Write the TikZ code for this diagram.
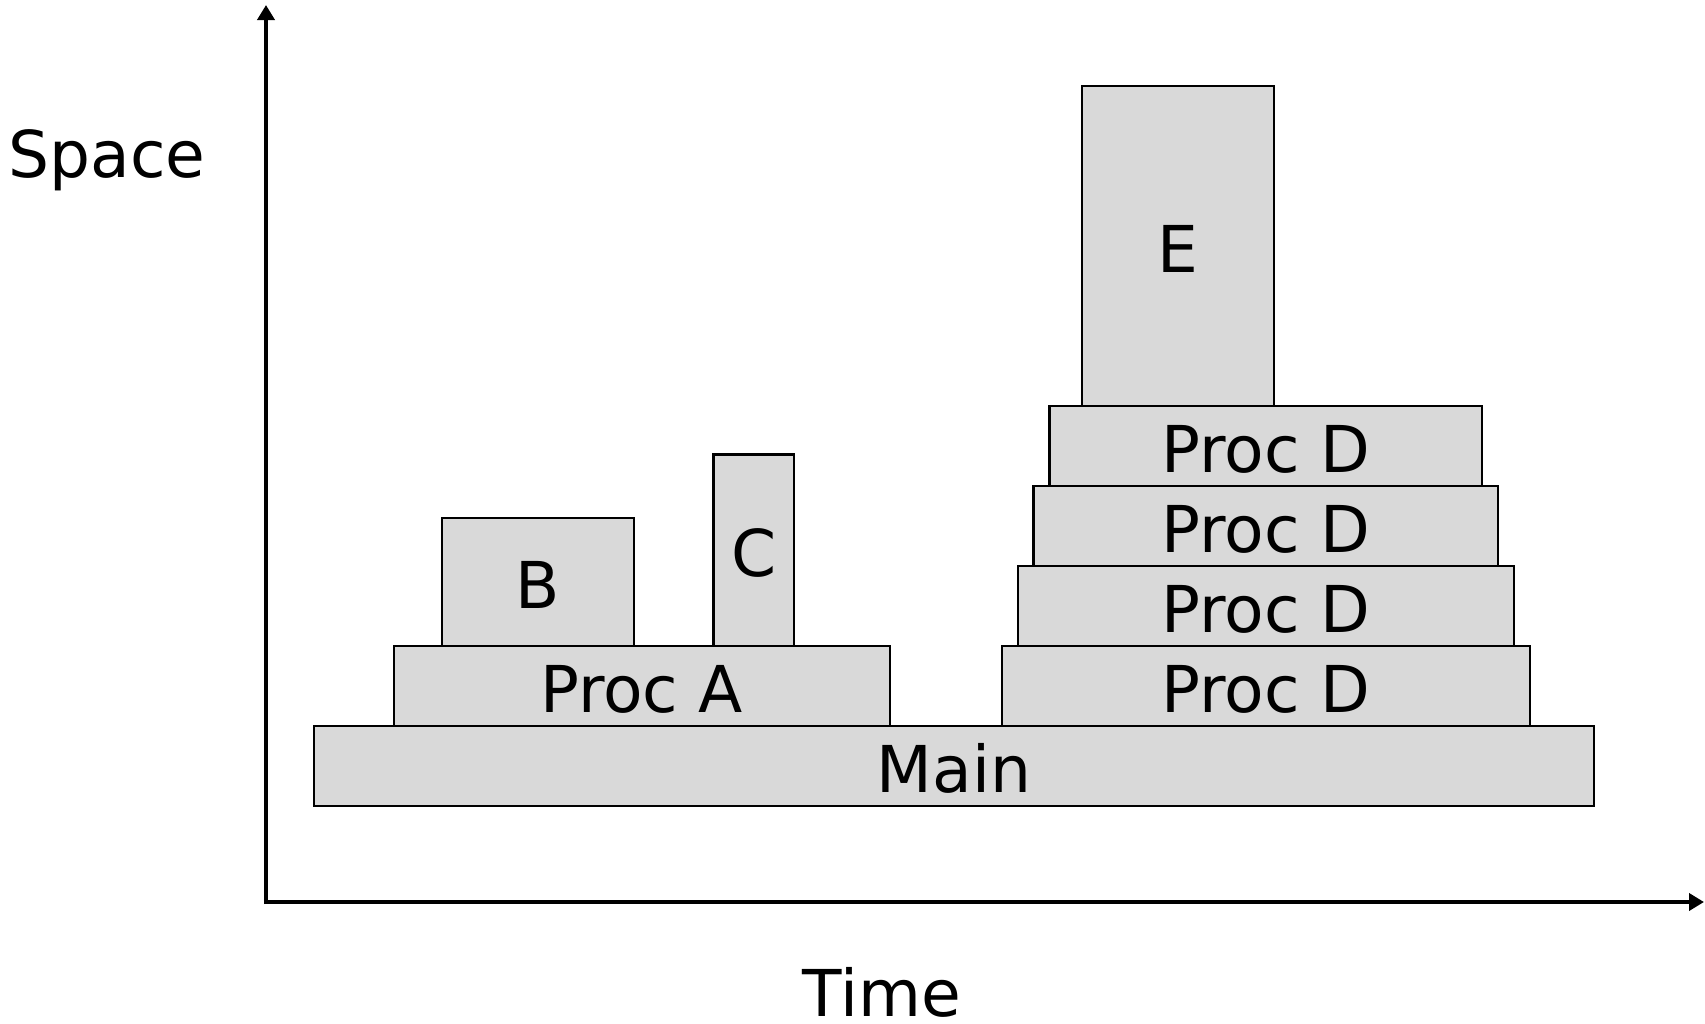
\documentclass[tikz,border=0pt]{standalone}
\usepackage{fontspec}
\setmainfont{DejaVu Sans}
\usetikzlibrary{arrows.meta}
\definecolor{boxgray}{RGB}{217,217,217}
\tikzset{
  pbox/.style={draw=black, fill=boxgray, line width=1.2pt, inner sep=0pt, outer sep=0pt,
    text height=26pt, text depth=0pt, font=\fontsize{32.3pt}{37pt}\selectfont},
  axis/.style={line width=2.2pt, -{Triangle[length=7.5pt,width=8.5pt]}},
  axlabel/.style={font=\fontsize{32.3pt}{37pt}\selectfont, anchor=base, inner sep=0pt}
}
\begin{document}
\begin{tikzpicture}[x=0.5pt,y=-0.5pt]
\useasboundingbox (0,0) rectangle (1705,1024);
% axes
\coordinate (origin) at (266,902);
\coordinate (ytop) at (266,5);
\coordinate (xend) at (1704,902);
\draw[axis] ([yshift=-1.1pt]origin) -- (ytop);
\draw[axis] ([xshift=-1.1pt]origin) -- (xend);
\node[axlabel] (space) at (107,177) {Space};
\node[axlabel] (time) at (882,1016) {Time};
% boxes
\node[pbox, minimum width=640pt, minimum height=40pt] (main) at (954,766) {Main};
\node[pbox, minimum width=248pt, minimum height=40pt] (procA) at (641.75,686) {Proc A};
\node[pbox, minimum width=96pt, minimum height=64pt] (B) at (538,582) {B};
\node[pbox, minimum width=40.25pt, minimum height=95.75pt] (C) at (753.75,550.25) {C};
\node[pbox, minimum width=264.1pt, minimum height=40pt] (D1) at (1265.9,686) {Proc D};
\node[pbox, minimum width=248pt, minimum height=40pt] (D2) at (1265.9,606) {Proc D};
\node[pbox, minimum width=232.15pt, minimum height=40pt] (D3) at (1265.8,526) {Proc D};
\node[pbox, minimum width=216.25pt, minimum height=40pt] (D4) at (1265.85,446) {Proc D};
\node[pbox, minimum width=96.05pt, minimum height=160pt] (E) at (1177.85,246) {E};
\end{tikzpicture}
\end{document}
